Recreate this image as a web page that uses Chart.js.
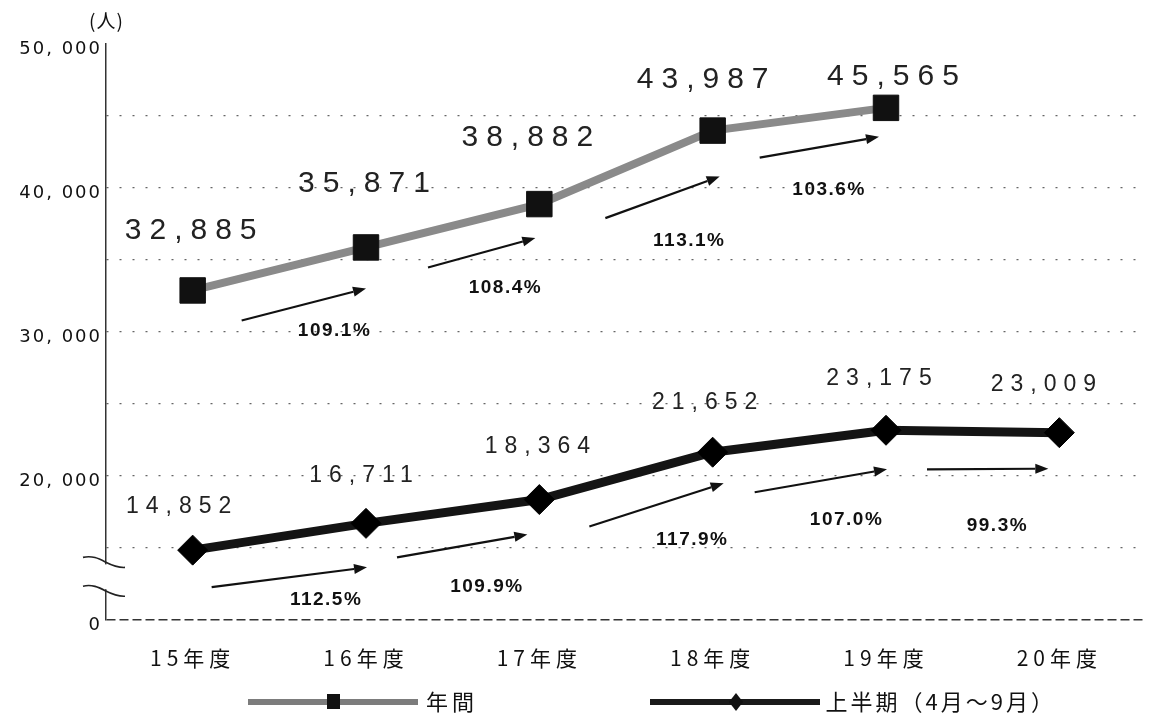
<!DOCTYPE html>
<html lang="ja">
<head>
<meta charset="utf-8">
<title>利用者数の推移</title>
<script src="https://cdn.jsdelivr.net/npm/chart.js@4.4.1/dist/chart.umd.min.js"></script>
<style>
  html, body { margin: 0; padding: 0; background: #fff; }
  #wrap { width: 1165px; height: 717px; }
</style>
</head>
<body>
<div id="wrap"><canvas id="chart" width="1165" height="717"></canvas></div>
<script>
// 年度
const categories = ['15年度', '16年度', '17年度', '18年度', '19年度', '20年度'];
// 年間（20年度は無し）
const annualValues = [32885, 35871, 38882, 43987, 45565, null];
// 上半期
const halfValues = [14852, 16711, 18364, 21652, 23175, 23009];
// 前年度比
const annualRatios = ['109.1%', '108.4%', '113.1%', '103.6%'];
const halfRatios = ['112.5%', '109.9%', '117.9%', '107.0%', '99.3%'];
// 軸は途中省略。一番下の目盛り（10,000の位置）を「0」と表示する
const yTickValues = [10000, 20000, 30000, 40000, 50000];
const yTickLabels = ['0', '20, 000', '30, 000', '40, 000', '50, 000'];
const seriesNames = ['年間', '上半期（4月～9月）'];

// 数値ラベル・矢印の置き場所（点からのずらし, px）
const annualLabelShift = [[-2, -60], [-2, -64], [-12, -66], [-10, -51], [7, -31]];
const halfLabelShift = [[-14, -43], [-5, -48], [-2, -53], [-8, -50], [-7, -52], [-16, -48]];
const annualArrowShift = [[49, 30, 0, 41], [62, 20, -4, 34], [66, 14, 7, 46], [47, 27, -7, 29]];
const halfArrowShift = [[19, 37, 1, 44], [31, 34, -12, 35], [50, 27, 11, 31], [42, 40, 1, 39], [41, 39, -11, 36]];
const annualRatioShift = [[30, 26], [23, 35], [26, 43], [9, 43]];
const halfRatioShift = [[36, 23], [24, 41], [35, 35], [25, 39], [9, 57]];

const fmt = v => v.toLocaleString('en-US');

function arrow(ctx, x1, y1, x2, y2) {
  const a = Math.atan2(y2 - y1, x2 - x1);
  const c = Math.cos(a), s = Math.sin(a);
  const head = 13, wing = 5;
  ctx.beginPath();
  ctx.moveTo(x1, y1);
  ctx.lineTo(x2 - head * c, y2 - head * s);
  ctx.stroke();
  ctx.beginPath();
  ctx.moveTo(x2, y2);
  ctx.lineTo(x2 - head * c + wing * s, y2 - head * s - wing * c);
  ctx.lineTo(x2 - head * c - wing * s, y2 - head * s + wing * c);
  ctx.closePath();
  ctx.fill();
}

function spacedText(ctx, text, x, y, font, spacing) {
  ctx.font = font;
  ctx.letterSpacing = spacing + 'px';
  ctx.fillText(text, x + spacing / 2, y);
}

const extras = {
  id: 'extras',
  // x軸ラベルは字間を広めに
  beforeDraw(chart) {
    chart.ctx.letterSpacing = '5px';
  },
  // y軸ラベル（ticks.z = 1）はこの後に描かれる
  afterDatasetsDraw(chart) {
    chart.ctx.letterSpacing = '2px';
  },
  afterDraw(chart) {
    const ctx = chart.ctx;
    const area = chart.chartArea;
    const yScale = chart.scales.y;
    const pA = chart.getDatasetMeta(0).data;
    const pH = chart.getDatasetMeta(1).data;
    ctx.save();
    ctx.fillStyle = '#222';
    ctx.strokeStyle = '#111';
    ctx.textAlign = 'center';
    ctx.textBaseline = 'middle';

    // 数値ラベル
    annualValues.forEach((v, i) => {
      if (v == null) return;
      const sh = annualLabelShift[i];
      spacedText(ctx, fmt(v), pA[i].x + sh[0], pA[i].y + sh[1], '30px "Liberation Sans"', 8);
    });
    halfValues.forEach((v, i) => {
      const sh = halfLabelShift[i];
      spacedText(ctx, fmt(v), pH[i].x + sh[0], pH[i].y + sh[1], '23px "Liberation Sans"', 7);
    });

    // 前年度比の矢印
    ctx.lineWidth = 2.2;
    ctx.fillStyle = '#111';
    const drawRatios = (pts, ratios, aShift, rShift) => {
      ratios.forEach((txt, i) => {
        const a = aShift[i];
        const x1 = pts[i].x + a[0], y1 = pts[i].y + a[1];
        const x2 = pts[i + 1].x + a[2], y2 = pts[i + 1].y + a[3];
        arrow(ctx, x1, y1, x2, y2);
        const r = rShift[i];
        spacedText(ctx, txt, (x1 + x2) / 2 + r[0], (y1 + y2) / 2 + r[1], 'bold 19px "Liberation Sans"', 1.5);
      });
    };
    drawRatios(pA, annualRatios, annualArrowShift, annualRatioShift);
    drawRatios(pH, halfRatios, halfArrowShift, halfRatioShift);

    // 単位
    spacedText(ctx, '(人)', area.left, area.top - 23, '19px "Noto Sans CJK JP"', 1);

    // 軸の省略記号
    const b1 = yScale.getPixelForValue(14000);
    const b2 = yScale.getPixelForValue(12000);
    ctx.fillStyle = '#fff';
    ctx.fillRect(area.left - 4, b1 + 2, 8, b2 - b1 - 4);
    ctx.lineWidth = 1.6;
    ctx.strokeStyle = '#222';
    [b1, b2].forEach(y => {
      ctx.beginPath();
      ctx.moveTo(area.left - 23, y - 5);
      ctx.bezierCurveTo(area.left - 6, y - 9, area.left + 2, y + 6, area.left + 19, y + 5);
      ctx.stroke();
    });

    // 凡例
    const ly = 702;
    ctx.lineCap = 'butt';
    ctx.lineWidth = 6;
    ctx.strokeStyle = '#7c7c7c';
    ctx.beginPath(); ctx.moveTo(248, ly); ctx.lineTo(418, ly); ctx.stroke();
    ctx.fillStyle = '#111';
    ctx.fillRect(327, ly - 8, 13, 15);
    ctx.strokeStyle = '#1a1a1a';
    ctx.beginPath(); ctx.moveTo(650, ly); ctx.lineTo(820, ly); ctx.stroke();
    ctx.beginPath();
    ctx.moveTo(736, ly - 9); ctx.lineTo(743, ly); ctx.lineTo(736, ly + 9); ctx.lineTo(729, ly);
    ctx.closePath(); ctx.fill();
    ctx.textAlign = 'left';
    ctx.fillStyle = '#111';
    spacedText(ctx, seriesNames[0], 424, ly, '22px "Noto Sans CJK JP"', 4);
    spacedText(ctx, seriesNames[1], 824, ly, '22px "Noto Sans CJK JP"', 3);
    ctx.restore();
  }
};

new Chart(document.getElementById('chart'), {
  type: 'line',
  data: {
    labels: categories,
    datasets: [
      {
        label: seriesNames[0],
        data: annualValues,
        borderColor: '#8a8a8a',
        borderWidth: 8,
        pointStyle: 'rect',
        pointRadius: 18,
        pointBackgroundColor: '#111',
        pointBorderColor: '#111',
        pointBorderWidth: 1,
        tension: 0
      },
      {
        label: seriesNames[1],
        data: halfValues,
        borderColor: '#141414',
        borderWidth: 9,
        pointStyle: 'rectRot',
        pointRadius: 15,
        pointBackgroundColor: '#000',
        pointBorderColor: '#000',
        pointBorderWidth: 1,
        tension: 0
      }
    ]
  },
  options: {
    responsive: false,
    animation: false,
    events: [],
    layout: { padding: { top: 44, right: 0, bottom: 0, left: 0 } },
    plugins: {
      legend: { display: false },
      tooltip: { enabled: false }
    },
    scales: {
      x: {
        offset: true,
        grid: { display: false, drawTicks: false },
        border: { display: false },
        ticks: {
          padding: 25,
          color: '#111',
          font: { family: '"Noto Sans CJK JP", sans-serif', size: 21 }
        },
        afterFit: s => { s.height = 97; }
      },
      y: {
        min: 10000,
        max: 50000,
        grid: {
          drawTicks: false,
          color: c => c.tick.value === 10000 ? '#333' : (c.tick.value === 50000 ? 'rgba(0,0,0,0)' : '#666'),
          lineWidth: c => c.tick.value === 10000 ? 1.6 : 1.3
        },
        border: {
          display: true,
          color: '#333',
          width: 1.5,
          dash: c => (c.tick && c.tick.value === 10000) ? [9, 4] : [2, 11]
        },
        ticks: {
          z: 1,
          stepSize: 5000,
          padding: 4,
          labelOffset: 5,
          color: '#111',
          font: { family: '"DejaVu Sans", sans-serif', size: 18 },
          callback: v => {
            const i = yTickValues.indexOf(v);
            return i < 0 ? '' : yTickLabels[i];
          }
        },
        afterFit: s => { s.width = 106; }
      }
    }
  },
  plugins: [extras]
});
</script>
</body>
</html>
